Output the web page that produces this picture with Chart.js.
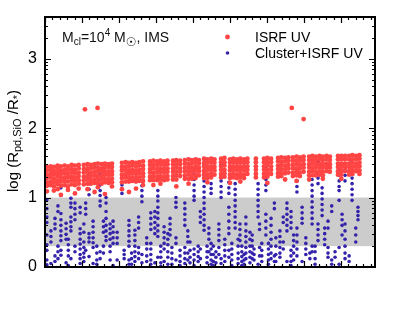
<!DOCTYPE html>
<html>
<head>
<meta charset="utf-8">
<script src="https://cdn.jsdelivr.net/npm/chart.js@4.4.1/dist/chart.umd.min.js"></script>
<style>
  html, body { margin: 0; padding: 0; background: #fff; }
  #chart { display: block; }
</style>
</head>
<body>
<canvas id="chart" width="399" height="319"></canvas>
<script>
// x: model position along the (unlabelled) axis, y: log(R_pd,SiO / R*)
// red = ISRF UV, one column of values per x position
const redX = [0.5, 1.5, 2.4, 3.4, 4.3, 5.3, 6.2, 7.2, 8.1, 9.1,
  10.5, 11.5, 12.4, 13.4, 14.3, 15.3, 16.2, 17.2, 18.1,
  20.8, 21.8, 22.7, 23.6, 24.6, 25.5, 26.5,
  28.4, 29.3, 30.3, 31.2, 32.2, 33.1, 34.6, 35.5, 36.5,
  37.8, 38.8, 39.7, 40.7, 41.6, 43.0, 43.9, 44.9, 45.8, 47.6, 48.5,
  50.0, 50.9, 51.9, 52.8, 53.8, 54.7, 57.0, 59.2, 60.1, 61.1,
  63.0, 63.9, 64.9, 65.8, 67.0, 68.0, 68.9, 69.9,
  71.4, 72.3, 73.2, 74.2, 75.1, 76.1, 77.0, 79.2, 80.1, 81.1, 82.2, 83.1, 84.1, 85.0];
const redY = [
  [1.44,1.39,1.33,1.28,1.22,1.17,1.09], [1.45,1.40,1.34,1.29,1.23,1.18], [1.44,1.38,1.33,1.27,1.22,1.16,1.10],
  [1.46,1.41,1.35,1.30,1.24,1.19,1.12], [1.45,1.39,1.34,1.28,1.23,1.17,1.04], [1.46,1.40,1.35,1.29,1.24,1.18],
  [1.45,1.40,1.34,1.29,1.23,1.16,1.11], [1.47,1.41,1.36,1.30,1.25,1.19], [1.46,1.40,1.35,1.29,1.24,1.18,1.06],
  [1.47,1.42,1.36,1.31,1.25,1.20,1.13],
  [1.47,1.41,1.36,1.30,1.25,1.19], [1.48,1.42,1.37,1.31,1.26,1.20,1.12], [1.47,1.42,1.36,1.31,1.25,1.20],
  [1.48,1.43,1.37,1.32,1.26,1.21,1.08], [1.49,1.43,1.38,1.32,1.27,1.21,1.15], [1.48,1.42,1.37,1.31,1.26,1.20],
  [1.49,1.44,1.38,1.33,1.27,1.22,1.05], [1.48,1.43,1.37,1.32,1.26,1.21], [1.49,1.44,1.38,1.33,1.27,1.22,1.16],
  [1.50,1.44,1.39,1.33,1.28,1.22,1.12], [1.51,1.45,1.40,1.34,1.29,1.23], [1.50,1.45,1.39,1.34,1.28,1.23,1.08],
  [1.51,1.46,1.40,1.35,1.29,1.24], [1.50,1.45,1.39,1.34,1.28,1.23,1.13], [1.51,1.46,1.40,1.35,1.29,1.24],
  [1.52,1.46,1.41,1.35,1.30,1.24,1.18],
  [1.52,1.47,1.41,1.36,1.30,1.25], [1.53,1.47,1.42,1.36,1.31,1.25,1.18], [1.52,1.47,1.41,1.36,1.30,1.25],
  [1.53,1.48,1.42,1.37,1.31,1.26,1.20], [1.52,1.47,1.41,1.36,1.30,1.25], [1.53,1.48,1.42,1.37,1.31,1.26],
  [1.53,1.48,1.42,1.37,1.31,1.26], [1.54,1.48,1.43,1.37,1.32,1.26,1.16], [1.53,1.48,1.42,1.37,1.31],
  [1.54,1.49,1.43,1.38,1.32,1.27], [1.55,1.49,1.44,1.38,1.33,1.27,1.20], [1.54,1.49,1.43,1.38,1.32,1.27],
  [1.55,1.50,1.44,1.39,1.33,1.28], [1.54,1.49,1.43,1.38,1.32],
  [1.56,1.50,1.45,1.39,1.34,1.28], [1.55,1.50,1.44,1.39,1.33,1.28,1.22], [1.56,1.51,1.45,1.40,1.34,1.29],
  [1.55,1.50,1.44,1.39,1.33], [1.56,1.51,1.45,1.40,1.34,1.29], [1.57,1.51,1.46,1.40,1.35,1.30],
  [1.55,1.50,1.44,1.39,1.33,1.28,1.21], [1.56,1.51,1.45,1.40,1.34,1.29], [1.55,1.50,1.44,1.39,1.33,1.28],
  [1.56,1.51,1.45,1.40,1.34,1.29,1.23], [1.55,1.50,1.44,1.39,1.33,1.28], [1.56,1.51,1.45,1.40,1.34],
  [1.56,1.51,1.45,1.40,1.34,1.29], [1.56,1.51,1.45,1.40,1.34,1.29], [1.57,1.51,1.46,1.40,1.35,1.30,1.21],
  [1.56,1.51,1.45,1.40,1.34],
  [1.57,1.52,1.46,1.41,1.35,1.30], [1.58,1.52,1.47,1.41,1.36,1.31], [1.57,1.52,1.46,1.41,1.35,1.26],
  [1.58,1.53,1.47,1.42,1.36], [1.58,1.53,1.47,1.42,1.36,1.31], [1.59,1.53,1.48,1.42,1.37,1.32,1.24],
  [1.58,1.53,1.47,1.42,1.36,1.31], [1.59,1.54,1.48,1.43,1.37],
  [1.59,1.54,1.48,1.43,1.37,1.32,1.26], [1.60,1.54,1.49,1.43,1.38,1.32], [1.59,1.54,1.48,1.43,1.37,1.32],
  [1.60,1.55,1.49,1.44,1.38,1.33], [1.59,1.54,1.48,1.43,1.37,1.32,1.27], [1.60,1.55,1.49,1.44,1.38],
  [1.59,1.54,1.48,1.43,1.37], [1.60,1.55,1.49,1.44,1.38,1.33], [1.60,1.55,1.49,1.44,1.38,1.33,1.27],
  [1.60,1.55,1.49,1.44,1.38], [1.60,1.55,1.49,1.44,1.38,1.33], [1.61,1.55,1.50,1.44,1.39,1.34],
  [1.60,1.55,1.49,1.44,1.38], [1.61,1.56,1.50,1.45,1.39,1.34]
];
const redOutliers = [[10.8, 2.27], [14.2, 2.29], [66.7, 2.29], [69.9, 2.13]];

// blue = Cluster+ISRF UV
const blueX = [0.5, 2.7, 4.3, 5.7, 7.0, 8.1, 9.5, 10.5, 11.9, 13.0, 14.9, 16.5, 17.6, 18.4,
  20.8, 21.4, 22.7, 24.3, 26.2, 28.6, 29.7, 30.5, 32.2, 33.2, 34.3, 35.4, 37.8, 39.2, 40.3, 41.4,
  43.0, 43.8, 44.9, 46.2, 47.6, 48.6, 49.7, 51.4, 52.2, 53.2, 54.3, 55.4, 56.5, 57.6, 58.6, 59.7,
  61.1, 62.4, 63.5, 65.4, 66.5, 68.1, 69.5, 71.6, 72.2, 73.8, 74.9, 76.5, 78.4, 79.5, 81.1, 82.2, 83.0, 84.6,
  1.6, 3.5, 6.3, 11.0, 14.0, 15.8, 19.5, 23.4, 25.3, 27.5, 31.3, 33.8, 36.5, 38.6, 42.0, 44.3,
  45.5, 47.0, 50.5, 52.7, 53.8, 56.0, 58.0, 60.4, 62.0, 64.4, 67.2, 70.5, 73.0, 75.6, 77.5, 80.3, 84.0];
const blueY = [
  [0.97,0.84,0.72,0.64,0.46,0.32,0.24,0.10,0.03], [0.70,0.62,0.55,0.16,0.08],
  [1.14,1.03,0.77,0.68,0.60,0.52,0.45,0.38,0.24,0.17], [0.63,0.55,0.47,0.40,0.06],
  [0.99,0.92,0.86,0.72,0.65,0.58,0.52,0.12], [0.92,0.84,0.76,0.68,0.30,0.22],
  [0.86,0.78,0.55,0.48,0.40,0.33,0.26,0.18,0.12,0.05], [0.62,0.50,0.36,0.28,0.20,0.14,0.08],
  [1.35,1.28,1.20,1.12,1.04,0.48,0.42,0.36,0.15], [0.66,0.58,0.50,0.42,0.35,0.28,0.05],
  [1.40,1.33,1.26,1.18,1.10,1.03,0.95,0.88,0.22,0.12], [1.00,0.92,0.80,0.70,0.60,0.52,0.44,0.38],
  [0.62,0.55,0.48,0.40,0.30,0.22,0.10], [0.66,0.58,0.50,0.42,0.34,0.02],
  [1.18,1.12,1.06], [0.24,0.18,0.12],
  [0.67,0.60,0.52,0.45,0.37,0.30,0.10,0.04], [0.53,0.46,0.38,0.30,0.22,0.15,0.08],
  [1.24,1.17,1.10,1.02,0.94,0.18,0.06], [0.78,0.70,0.62,0.54,0.34,0.26,0.18,0.10,0.04],
  [0.80,0.72,0.64,0.56,0.48,0.06], [1.10,1.02,0.95,0.86,0.78,0.70,0.60,0.52,0.44,0.14],
  [0.58,0.50,0.42,0.34,0.26,0.08], [0.48,0.40,0.32,0.22,0.14,0.04], [0.28,0.20,0.12,0.04],
  [1.00,0.93,0.86,0.42,0.34,0.10], [0.92,0.84,0.76,0.68,0.60,0.28,0.20,0.12,0.05], [0.36,0.24,0.14,0.06],
  [1.42,1.34,1.26,1.18,1.10,1.02,0.96,0.26,0.18,0.10,0.02], [0.30,0.22,0.15,0.08],
  [1.55,1.48,1.40,1.32,1.24,1.16,1.08,1.00,0.92,0.84,0.76,0.68,0.60,0.53], [0.30,0.22,0.14,0.06],
  [1.20,1.13,1.06,0.34,0.26,0.18,0.10,0.04], [0.22,0.14,0.06],
  [1.56,1.48,1.40,1.32,1.24,1.16,1.08,1.00,0.12,0.05], [0.40,0.32,0.24,0.16,0.08],
  [1.22,1.14,1.06,0.86,0.76,0.66,0.56,0.48,0.24,0.14], [1.20,1.12,1.04,0.96,0.88,0.80,0.72,0.64,0.56],
  [0.40,0.30,0.20,0.12,0.05], [0.30,0.22,0.15,0.08,0.02], [0.72,0.62,0.52,0.44,0.36,0.28,0.20,0.12],
  [0.50,0.40,0.30,0.22,0.14,0.06], [0.26,0.18,0.10], [1.20,1.12,1.04,0.96,0.88,0.80,0.72,0.04],
  [0.34,0.24,0.16,0.08], [1.50,1.42,1.34,1.26,1.18,1.10,0.76,0.66,0.56,0.46],
  [0.70,0.60,0.50,0.40,0.30,0.20,0.12], [0.42,0.30,0.18,0.08], [0.52,0.44,0.36,0.28,0.20,0.14],
  [0.92,0.84,0.76,0.68,0.60,0.52,0.08], [0.80,0.72,0.64,0.56,0.24,0.16,0.08,0.02],
  [1.48,1.40,1.32,1.24,1.16,1.08,0.56,0.46,0.36,0.26,0.16], [0.86,0.78,0.70,0.63,0.08], [0.20,0.12],
  [1.26,1.18,1.10,1.02,0.94,0.86,0.78,0.70,0.62,0.30,0.22], [1.52,1.44,1.36,1.28,1.20,0.62,0.54,0.46,0.38],
  [1.14,1.06,0.98,0.90,0.82,0.74], [0.66,0.56,0.28,0.20,0.14], [0.22,0.14],
  [1.40,1.32,1.24,1.16,1.10,0.96,0.28,0.04], [1.56,1.48,1.40,1.32,1.24,0.62,0.52,0.40,0.30,0.20,0.12],
  [0.16,0.08], [1.52,1.44,1.36,1.28,1.20,1.12,1.04,0.96], [0.86,0.80,0.74,0.68],
  [0.52,0.44,0.36,0.05], [0.88,0.80,0.30,0.22,0.12], [0.40,0.32,0.24,0.16,0.02], [0.92,0.84,0.76,0.24],
  [0.30,0.20,0.10,0.04], [0.66,0.58,0.50,0.30,0.20], [0.50,0.42,0.34,0.10], [0.20,0.12,0.04],
  [0.72,0.64,0.56,0.28,0.20,0.12], [0.42,0.34,0.26,0.16,0.08], [0.30,0.22,0.14,0.06,0.01],
  [0.70,0.62,0.54,0.46], [0.24,0.16,0.08,0.02], [0.52,0.44,0.36,0.20,0.10], [0.80,0.72,0.64,0.26,0.12],
  [0.56,0.48,0.40,0.22], [0.30,0.18,0.08,0.02], [0.62,0.54,0.46,0.38,0.28,0.18],
  [0.34,0.26,0.18,0.10,0.02], [0.62,0.54,0.46,0.38], [0.18,0.10,0.04], [0.46,0.38,0.30,0.20,0.12],
  [0.62,0.54,0.28,0.16], [0.34,0.26,0.18,0.10,0.04], [0.92,0.84,0.16,0.08], [0.72,0.64,0.36,0.26],
  [0.46,0.38,0.30,0.20,0.10], [0.42,0.34,0.26,0.18], [0.30,0.22,0.12,0.04], [0.56,0.48,0.40,0.32],
  [0.88,0.80,0.10,0.04], [0.76,0.68,0.60,0.46], [0.56,0.46,0.36]
];

const yTickLabels = ['0', '1', '2', '3'];
const bandRange = [0.3, 1.0];
const seriesNames = ['ISRF UV', 'Cluster+ISRF UV'];

const FONT = '"Liberation Sans", Arial, Helvetica, sans-serif';

function columnsToPoints(xs, ys) {
  return xs.flatMap((x, i) => ys[i].map(y => ({ x, y })));
}
const redPoints = columnsToPoints(redX, redY).concat(redOutliers.map(p => ({ x: p[0], y: p[1] })));
const bluePoints = columnsToPoints(blueX, blueY);

// draws a row of [text, fontSize, yOffset] pieces starting at x
function drawRich(ctx, parts, x, y) {
  parts.forEach(([t, size, dy, family]) => {
    ctx.font = size + 'px ' + (family || FONT);
    ctx.fillText(t, x, y + dy);
    x += ctx.measureText(t).width;
  });
}
function richWidth(ctx, parts) {
  return parts.reduce((w, [t, size, dy, family]) => {
    ctx.font = size + 'px ' + (family || FONT);
    return w + ctx.measureText(t).width;
  }, 0);
}

const decorations = {
  id: 'decorations',
  beforeDatasetsDraw(chart) {
    const { ctx, chartArea: a, scales: { y } } = chart;
    const top = y.getPixelForValue(bandRange[1]);
    const bot = y.getPixelForValue(bandRange[0]);
    ctx.save();
    ctx.fillStyle = '#cccccc';
    ctx.fillRect(a.left, top, a.right - a.left, bot - top);
    ctx.restore();
  },
  afterDraw(chart) {
    const { ctx, chartArea: a, scales: { x, y } } = chart;
    ctx.save();
    ctx.strokeStyle = '#000';
    ctx.fillStyle = '#000';

    // inward ticks on all four sides
    ctx.lineWidth = 1.2;
    ctx.beginPath();
    for (let v = 0; v <= x.max + 1e-6; v += 2) {
      const px = Math.round(x.getPixelForValue(v)) + 0.5;
      const len = Math.round(v) % 10 === 0 ? 6 : 3;
      ctx.moveTo(px, a.bottom); ctx.lineTo(px, a.bottom - len);
      ctx.moveTo(px, a.top); ctx.lineTo(px, a.top + len);
    }
    for (let n = 0; n <= 3; n++) {
      for (let k = 1; k <= 9; k++) {
        const v = n + Math.log10(k);
        if (v > y.max) continue;
        const py = Math.round(y.getPixelForValue(v)) + 0.5;
        const len = k === 1 ? 6 : 3;
        ctx.moveTo(a.left, py); ctx.lineTo(a.left + len, py);
        ctx.moveTo(a.right, py); ctx.lineTo(a.right - len, py);
      }
    }
    ctx.stroke();

    // frame
    ctx.lineWidth = 2;
    ctx.strokeRect(a.left, a.top, a.right - a.left, a.bottom - a.top);

    // y tick labels
    ctx.font = '16px ' + FONT;
    ctx.textAlign = 'right';
    ctx.textBaseline = 'middle';
    yTickLabels.forEach(lbl => {
      ctx.fillText(lbl, a.left - 8, y.getPixelForValue(Number(lbl)));
    });

    // y axis title
    ctx.textAlign = 'left';
    ctx.textBaseline = 'middle';
    const title = [['log (R', 15, 0], ['pd,SiO', 11, 4], [' /R', 15, 0], ['*', 11, 4], [')', 15, 0]];
    const tw = richWidth(ctx, title);
    ctx.save();
    ctx.translate(14, 141);
    ctx.rotate(-Math.PI / 2);
    drawRich(ctx, title, -tw / 2, 0);
    ctx.restore();

    // annotation
    ctx.textBaseline = 'alphabetic';
    ctx.fillStyle = '#111';
    drawRich(ctx, [['M', 14, 0], ['cl', 10, 3], ['=10', 14, 0], ['4', 10, -6], [' M', 14, 0],
      ['\u2609', 12, 4, '"DejaVu Sans", sans-serif'], [', IMS', 14, 0]], 62, 42);

    // legend
    const ds = chart.data.datasets;
    [[37, 42], [53, 58]].forEach(([cy, base], i) => {
      ctx.fillStyle = ds[i].backgroundColor;
      ctx.beginPath();
      ctx.arc(227.5, cy, ds[i].pointRadius, 0, Math.PI * 2);
      ctx.fill();
      ctx.fillStyle = '#000';
      ctx.font = '14px ' + FONT;
      ctx.fillText(seriesNames[i], 255, base);
    });
    ctx.restore();
  }
};

new Chart(document.getElementById('chart'), {
  type: 'scatter',
  data: {
    datasets: [
      { label: seriesNames[0], data: redPoints, backgroundColor: '#ff4444', borderWidth: 0, pointRadius: 2.4 },
      { label: seriesNames[1], data: bluePoints, backgroundColor: '#3322aa', borderWidth: 0, pointRadius: 1.8 }
    ]
  },
  options: {
    responsive: false,
    animation: false,
    devicePixelRatio: 1,
    layout: { padding: { left: 45, right: 24, top: 17, bottom: 52 } },
    plugins: { legend: { display: false }, tooltip: { enabled: false } },
    scales: {
      x: { type: 'linear', min: 0, max: 89.2, display: false },
      y: { type: 'linear', min: 0, max: 3.6, display: false }
    }
  },
  plugins: [decorations]
});
</script>
</body>
</html>
